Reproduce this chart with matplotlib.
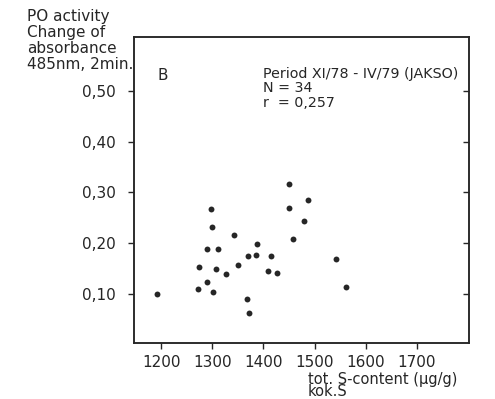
import matplotlib
matplotlib.use("Agg")
import matplotlib.pyplot as plt

# data (S-content vs PO activity)
s_content = [1191, 1298, 1300, 1290, 1311, 1343, 1274, 1307, 1326, 1350,
             1290, 1272, 1302, 1369, 1385, 1388, 1415, 1409, 1426, 1368,
             1371, 1451, 1450, 1487, 1480, 1457, 1542, 1562]
po_activity = [0.100, 0.268, 0.231, 0.189, 0.189, 0.216, 0.154, 0.149, 0.139, 0.157,
               0.124, 0.109, 0.103, 0.174, 0.177, 0.198, 0.174, 0.146, 0.141, 0.090,
               0.063, 0.317, 0.269, 0.284, 0.244, 0.208, 0.168, 0.113]

x_ticks = [1200, 1300, 1400, 1500, 1600, 1700]
y_ticks = [0.10, 0.20, 0.30, 0.40, 0.50]
y_ticklabels = ["0,10", "0,20", "0,30", "0,40", "0,50"]

plt.rcParams["font.family"] = ["DejaVu Sans"]
INK = "#262626"
FS = 11

fig = plt.figure(figsize=(4.95, 3.99), dpi=100)
ax = fig.add_axes([0.2707, 0.1404, 0.6768, 0.7669])

ax.scatter(s_content, po_activity, s=18, color=INK, linewidths=0, zorder=3)

ax.set_xlim(1147, 1802)
ax.set_ylim(0.0034, 0.606)

ax.set_xticks(x_ticks)
ax.set_xticklabels([str(t) for t in x_ticks], fontsize=FS, color=INK)
ax.set_yticks(y_ticks)
ax.set_yticklabels(y_ticklabels, fontsize=FS, color=INK)
ax.tick_params(axis="both", direction="out", length=4, width=1, color=INK)
ax.tick_params(axis="y", pad=9)
ax.tick_params(axis="x", pad=5)

# right spine carries inward ticks at the same levels
ax2 = ax.twinx()
ax2.set_ylim(ax.get_ylim())
ax2.set_yticks(y_ticks)
ax2.set_yticklabels([])
ax2.tick_params(axis="y", direction="in", length=4, width=1, color=INK)

for a in (ax, ax2):
    for sp in a.spines.values():
        sp.set_color(INK)
        sp.set_linewidth(1.1)

fig.text(0.055, 0.978, "PO activity\nChange of\nabsorbance\n485nm, 2min.",
         ha="left", va="top", fontsize=FS, color=INK, linespacing=1.08)

ax.text(0.07, 0.86, "B", transform=ax.transAxes, fontsize=FS, color=INK)
ax.text(0.385, 0.762, "Period XI/78 - IV/79 (JAKSO)\nN = 34\nr  = 0,257",
        transform=ax.transAxes, fontsize=10.3, color=INK, linespacing=1.03, va="bottom")

fig.text(0.622, 0.0, "tot. S-content (\u00b5g/g)\nkok.S", ha="left", va="bottom",
         fontsize=10.5, color=INK, linespacing=0.78)

fig.savefig("out.png", dpi=100)
